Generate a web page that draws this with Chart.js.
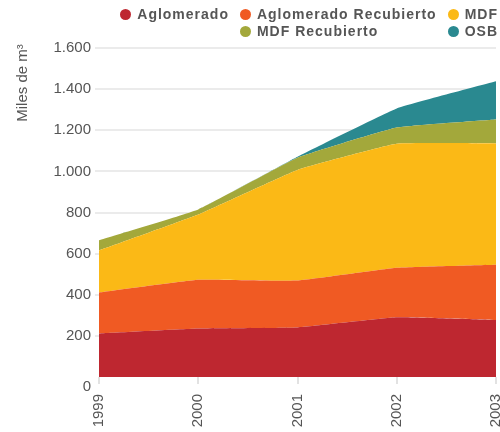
<!DOCTYPE html>
<html lang="es">
<head>
<meta charset="UTF-8">
<title>Tableros - Miles de m3</title>
<script src="https://cdn.jsdelivr.net/npm/chart.js"></script>
<style>
  html, body { margin: 0; padding: 0; background: #fff; }
  .wrap { position: relative; width: 500px; height: 432px; }
  canvas { position: absolute; left: 0; top: 0; }
  .legend { position: absolute; top: 6px; right: 2px; display: grid; grid-template-columns: auto auto auto; column-gap: 11px;
            font-family: 'Liberation Sans', Arial, sans-serif; font-weight: bold; font-size: 14px; letter-spacing: 1px; color: #555; line-height: 17px; }
  .legend .item { display: flex; align-items: center; white-space: nowrap; }
  .legend .dot { width: 11px; height: 11px; border-radius: 50%; margin-right: 6px; }
</style>
</head>
<body>
<div class="wrap">
  <canvas id="chart" width="500" height="432"></canvas>
  <div class="legend" id="legend"></div>
</div>
<script>
// datos (miles de m3)
const years = ['1999', '2000', '2001', '2002', '2003'];
const aglomerado = [212, 236, 241, 290, 277];
const aglomeradoRecubierto = [199, 237, 228, 241, 269];
const mdf = [204, 317, 538, 603, 590];
const mdfRecubierto = [50, 25, 59, 79, 116];
const osb = [0, 0, 5, 93, 186];
const yTicks = [0, 200, 400, 600, 800, 1000, 1200, 1400, 1600];

const seriesNames = ['Aglomerado', 'Aglomerado Recubierto', 'MDF', 'MDF Recubierto', 'OSB'];
const seriesColors = ['#BE2730', '#F05A23', '#FBB916', '#A3A83B', '#2A8990'];
const seriesData = [aglomerado, aglomeradoRecubierto, mdf, mdfRecubierto, osb];

const fmt = v => String(v).replace(/\B(?=(\d{3})+(?!\d))/g, '.');

// leyenda en dos filas, como el original
const legend = document.getElementById('legend');
seriesNames.forEach((name, i) => {
  if (i === 3) legend.appendChild(document.createElement('span'));
  const item = document.createElement('div');
  item.className = 'item';
  item.innerHTML = '<span class="dot" style="background:' + seriesColors[i] + '"></span>' + name;
  legend.appendChild(item);
});

const font = "'Liberation Sans', Arial, sans-serif";

// titulo del eje y y etiqueta del cero (un poco mas abajo)
const extras = {
  id: 'extras',
  afterDraw(chart) {
    const c = chart.ctx;
    c.save();
    c.fillStyle = '#555';
    c.font = '15px ' + font;
    c.translate(27, 83);
    c.rotate(-Math.PI / 2);
    c.textAlign = 'center';
    c.textBaseline = 'alphabetic';
    c.fillText('Miles de m³', 0, 0);
    c.restore();

    const y = chart.scales.y;
    c.save();
    c.fillStyle = '#555';
    c.font = '15px ' + font;
    c.textAlign = 'right';
    c.textBaseline = 'middle';
    c.fillText('0', y.right - 8, y.getPixelForValue(0) + 10);
    c.restore();
  }
};

new Chart(document.getElementById('chart'), {
  type: 'line',
  data: {
    labels: years,
    datasets: seriesData.map((d, i) => ({
      label: seriesNames[i],
      data: d,
      backgroundColor: seriesColors[i],
      borderColor: seriesColors[i],
      borderWidth: 0,
      pointRadius: 0,
      tension: 0.1,
      fill: i === 0 ? 'origin' : '-1'
    }))
  },
  options: {
    responsive: false,
    animation: false,
    layout: { padding: { top: 48, right: 4, bottom: 0, left: 0 } },
    plugins: { legend: { display: false }, tooltip: { enabled: false } },
    scales: {
      x: {
        offset: false,
        border: { display: false },
        grid: { drawOnChartArea: false, drawTicks: true, tickLength: 7, color: '#e2e2e2', lineWidth: 2 },
        ticks: { minRotation: 90, maxRotation: 90, padding: 10, color: '#555', font: { family: font, size: 15 } },
        afterFit(scale) { scale.height = 55; scale.paddingLeft = 0; scale.paddingRight = 0; }
      },
      y: {
        stacked: true,
        min: 0,
        max: 1600,
        border: { display: false },
        afterBuildTicks(scale) { scale.ticks = yTicks.map(v => ({ value: v })); },
        grid: {
          tickLength: 4,
          lineWidth: 2,
          color: ctx => (ctx.tick && ctx.tick.value === 0) ? 'rgba(0,0,0,0)' : '#ebebeb'
        },
        ticks: {
          padding: 4,
          color: '#555',
          font: { family: font, size: 15 },
          callback: v => v === 0 ? '' : fmt(v)
        },
        afterFit(scale) { scale.width = 99; scale.paddingTop = 0; scale.paddingBottom = 0; }
      }
    }
  },
  plugins: [extras]
});
</script>
</body>
</html>
